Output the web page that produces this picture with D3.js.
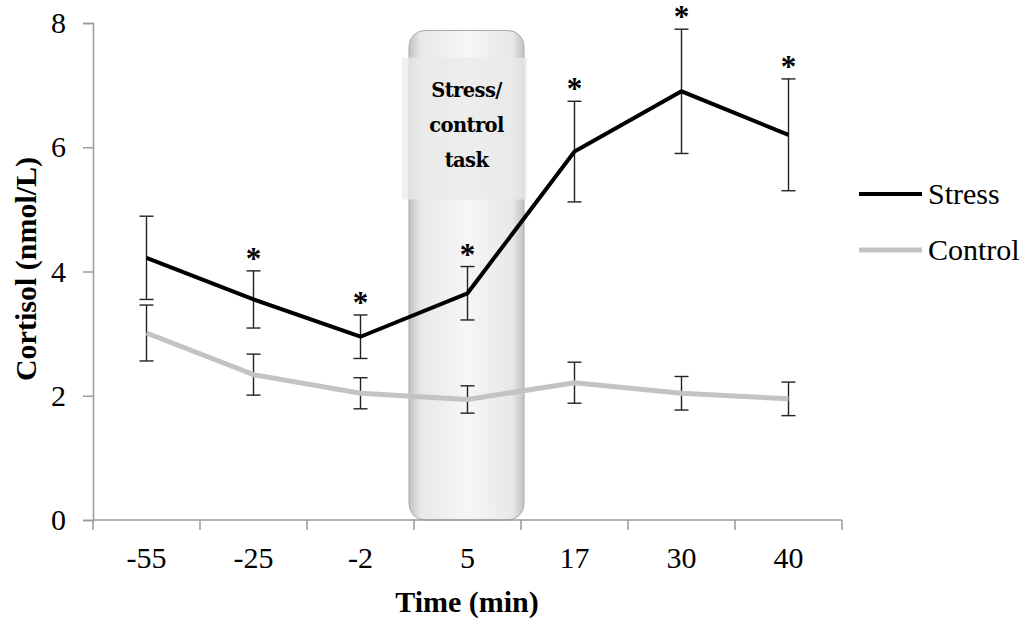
<!DOCTYPE html>
<html>
<head>
<meta charset="utf-8">
<script src="https://cdn.jsdelivr.net/npm/d3@7"></script>
<style>
	body { margin: 0; background: #fff; }
	svg { display: block; }
	text { font-family: "Liberation Serif", "Times New Roman", serif; fill: #000; }
</style>
</head>
<body>
<svg id="chart" width="1027" height="620"></svg>
<script>
'use strict';

// Time points (min), one band each
var times = ['-55', '-25', '-2', '5', '17', '30', '40'];

// Cortisol means (nmol/L) and error bar half-widths
var stress_mean = [4.22, 3.55, 2.95, 3.65, 5.93, 6.90, 6.20];
var stress_err  = [0.67, 0.46, 0.35, 0.43, 0.81, 1.00, 0.90];
var control_mean = [3.01, 2.34, 2.04, 1.94, 2.21, 2.04, 1.95];
var control_err  = [0.45, 0.33, 0.25, 0.22, 0.33, 0.27, 0.27];

// Which stress points get a significance star
var stress_sig = [false, true, true, true, true, true, true];

var y_ticks = [0, 2, 4, 6, 8];
var task_time = '5';
var task_lines = ['Stress/', 'control', 'task'];

var series = [
	{ name: 'Stress', mean: stress_mean, err: stress_err, colour: '#000', width: 4 },
	{ name: 'Control', mean: control_mean, err: control_err, colour: '#c3c3c3', width: 5 }
];

var svg = d3.select('#chart');

var x_scale = d3.scaleBand().domain(times).range([93, 842]);
var y_scale = d3.scaleLinear().domain([0, 8]).range([520, 23]);
var bw = x_scale.bandwidth();
function cx(t) { return x_scale(t) + bw / 2; }

//===============================================================
// Shaded task box (drawn first so the lines sit on top)
//===============================================================
var defs = svg.append('defs');
var grad = defs.append('linearGradient').attr('id', 'boxGrad')
	.attr('x1', '0%').attr('x2', '100%').attr('y1', '0%').attr('y2', '0%');
grad.append('stop').attr('offset', '0%').attr('stop-color', '#c2c2c2');
grad.append('stop').attr('offset', '10%').attr('stop-color', '#e8e8e8');
grad.append('stop').attr('offset', '50%').attr('stop-color', '#f6f6f6');
grad.append('stop').attr('offset', '90%').attr('stop-color', '#e8e8e8');
grad.append('stop').attr('offset', '100%').attr('stop-color', '#c2c2c2');

var box_x0 = x_scale(task_time) - 5;
var box_x1 = x_scale(task_time) + bw + 3;
svg.append('rect')
	.attr('x', box_x0).attr('y', y_scale(7.88))
	.attr('width', box_x1 - box_x0).attr('height', y_scale(0) - y_scale(7.88))
	.attr('rx', 16).attr('ry', 16)
	.attr('fill', 'url(#boxGrad)')
	.attr('stroke', '#aaa').attr('stroke-width', 1);

// pale panel behind the label
svg.append('rect')
	.attr('x', box_x0 - 7).attr('y', y_scale(7.44))
	.attr('width', box_x1 - box_x0 + 10).attr('height', y_scale(5.16) - y_scale(7.44))
	.attr('fill', '#e9e9e9').attr('opacity', 0.75);

svg.append('g').selectAll('text')
	.data(task_lines)
	.enter().append('text')
	.attr('x', (box_x0 + box_x1) / 2)
	.attr('y', function(d, i) { return 97 + i * 35; })
	.attr('text-anchor', 'middle')
	.style('font-family', '"DejaVu Serif", serif')
	.style('font-weight', 'bold')
	.style('font-size', '19.5px')
	.style('letter-spacing', '-0.6px')
	.text(function(d) { return d; });

//===============================================================
// Axes
//===============================================================
var x_axis = svg.append('g')
	.attr('transform', 'translate(0,' + y_scale(0) + ')');
x_axis.append('line')
	.attr('x1', 93).attr('x2', 842)
	.attr('stroke', '#9a9a9a').attr('stroke-width', 1.5);
// tick marks on band edges
x_axis.selectAll('line.tick')
	.data(times.map(function(t) { return x_scale(t); }).concat([x_scale(times[times.length - 1]) + bw]))
	.enter().append('line')
	.attr('class', 'tick')
	.attr('x1', function(d) { return d; }).attr('x2', function(d) { return d; })
	.attr('y1', 0).attr('y2', 10)
	.attr('stroke', '#9a9a9a').attr('stroke-width', 1.5);
x_axis.selectAll('text')
	.data(times)
	.enter().append('text')
	.attr('x', function(d) { return cx(d); })
	.attr('y', 48)
	.attr('text-anchor', 'middle')
	.style('font-size', '30px')
	.text(function(d) { return d; });

var y_axis = d3.axisLeft(y_scale).tickValues(y_ticks).tickSize(10).tickPadding(17);
var yg = svg.append('g').attr('transform', 'translate(93,0)').call(y_axis);
yg.select('.domain').attr('stroke', '#9a9a9a').attr('stroke-width', 1.5);
yg.selectAll('.tick line').attr('stroke', '#9a9a9a').attr('stroke-width', 1.5);
yg.selectAll('.tick text')
	.style('font-family', '"Liberation Serif", serif')
	.style('font-size', '30px')
	.attr('fill', '#000');

svg.append('text')
	.attr('x', 467).attr('y', 612)
	.attr('text-anchor', 'middle')
	.style('font-size', '30px').style('font-weight', 'bold')
	.text('Time (min)');

svg.append('text')
	.attr('transform', 'translate(36,269) rotate(-90)')
	.attr('text-anchor', 'middle')
	.style('font-size', '30px').style('font-weight', 'bold')
	.text('Cortisol (nmol/L)');

//===============================================================
// Series lines, error bars, stars
//===============================================================
var line = d3.line()
	.x(function(d, i) { return cx(times[i]); })
	.y(function(d) { return y_scale(d); });

// error bars under the lines
series.forEach(function(s) {
	var g = svg.append('g').attr('class', 'err');
	var pts = s.mean.map(function(m, i) { return { t: times[i], lo: m - s.err[i], hi: m + s.err[i] }; });
	g.selectAll('line.v').data(pts).enter().append('line')
		.attr('x1', function(d) { return cx(d.t); }).attr('x2', function(d) { return cx(d.t); })
		.attr('y1', function(d) { return y_scale(d.lo); }).attr('y2', function(d) { return y_scale(d.hi); })
		.attr('stroke', '#222').attr('stroke-width', 1.4);
	['lo', 'hi'].forEach(function(k) {
		g.selectAll('line.' + k).data(pts).enter().append('line')
			.attr('x1', function(d) { return cx(d.t) - 7; }).attr('x2', function(d) { return cx(d.t) + 7; })
			.attr('y1', function(d) { return y_scale(d[k]); }).attr('y2', function(d) { return y_scale(d[k]); })
			.attr('stroke', '#222').attr('stroke-width', 1.4);
	});
});

series.slice().reverse().forEach(function(s) {
	svg.append('path')
		.datum(s.mean)
		.attr('d', line)
		.attr('fill', 'none')
		.attr('stroke', s.colour)
		.attr('stroke-width', s.width)
		.attr('stroke-linejoin', 'miter');
});

svg.append('g').selectAll('text')
	.data(stress_mean.map(function(m, i) { return { t: times[i], top: m + stress_err[i], sig: stress_sig[i] }; })
		.filter(function(d) { return d.sig; }))
	.enter().append('text')
	.attr('x', function(d) { return cx(d.t); })
	.attr('y', function(d) { return y_scale(d.top) - 2; })
	.attr('text-anchor', 'middle')
	.style('font-size', '31px').style('font-weight', 'bold')
	.text('*');

//===============================================================
// Legend
//===============================================================
var legend = svg.append('g').selectAll('g')
	.data(series)
	.enter().append('g')
	.attr('transform', function(d, i) { return 'translate(859,' + (194 + i * 56) + ')'; });
legend.append('line')
	.attr('x1', 0).attr('x2', 63)
	.attr('stroke', function(d) { return d.colour; })
	.attr('stroke-width', function(d) { return d.width; });
legend.append('text')
	.attr('x', 69).attr('y', 10)
	.style('font-size', '30px')
	.text(function(d) { return d.name; });
</script>
</body>
</html>
